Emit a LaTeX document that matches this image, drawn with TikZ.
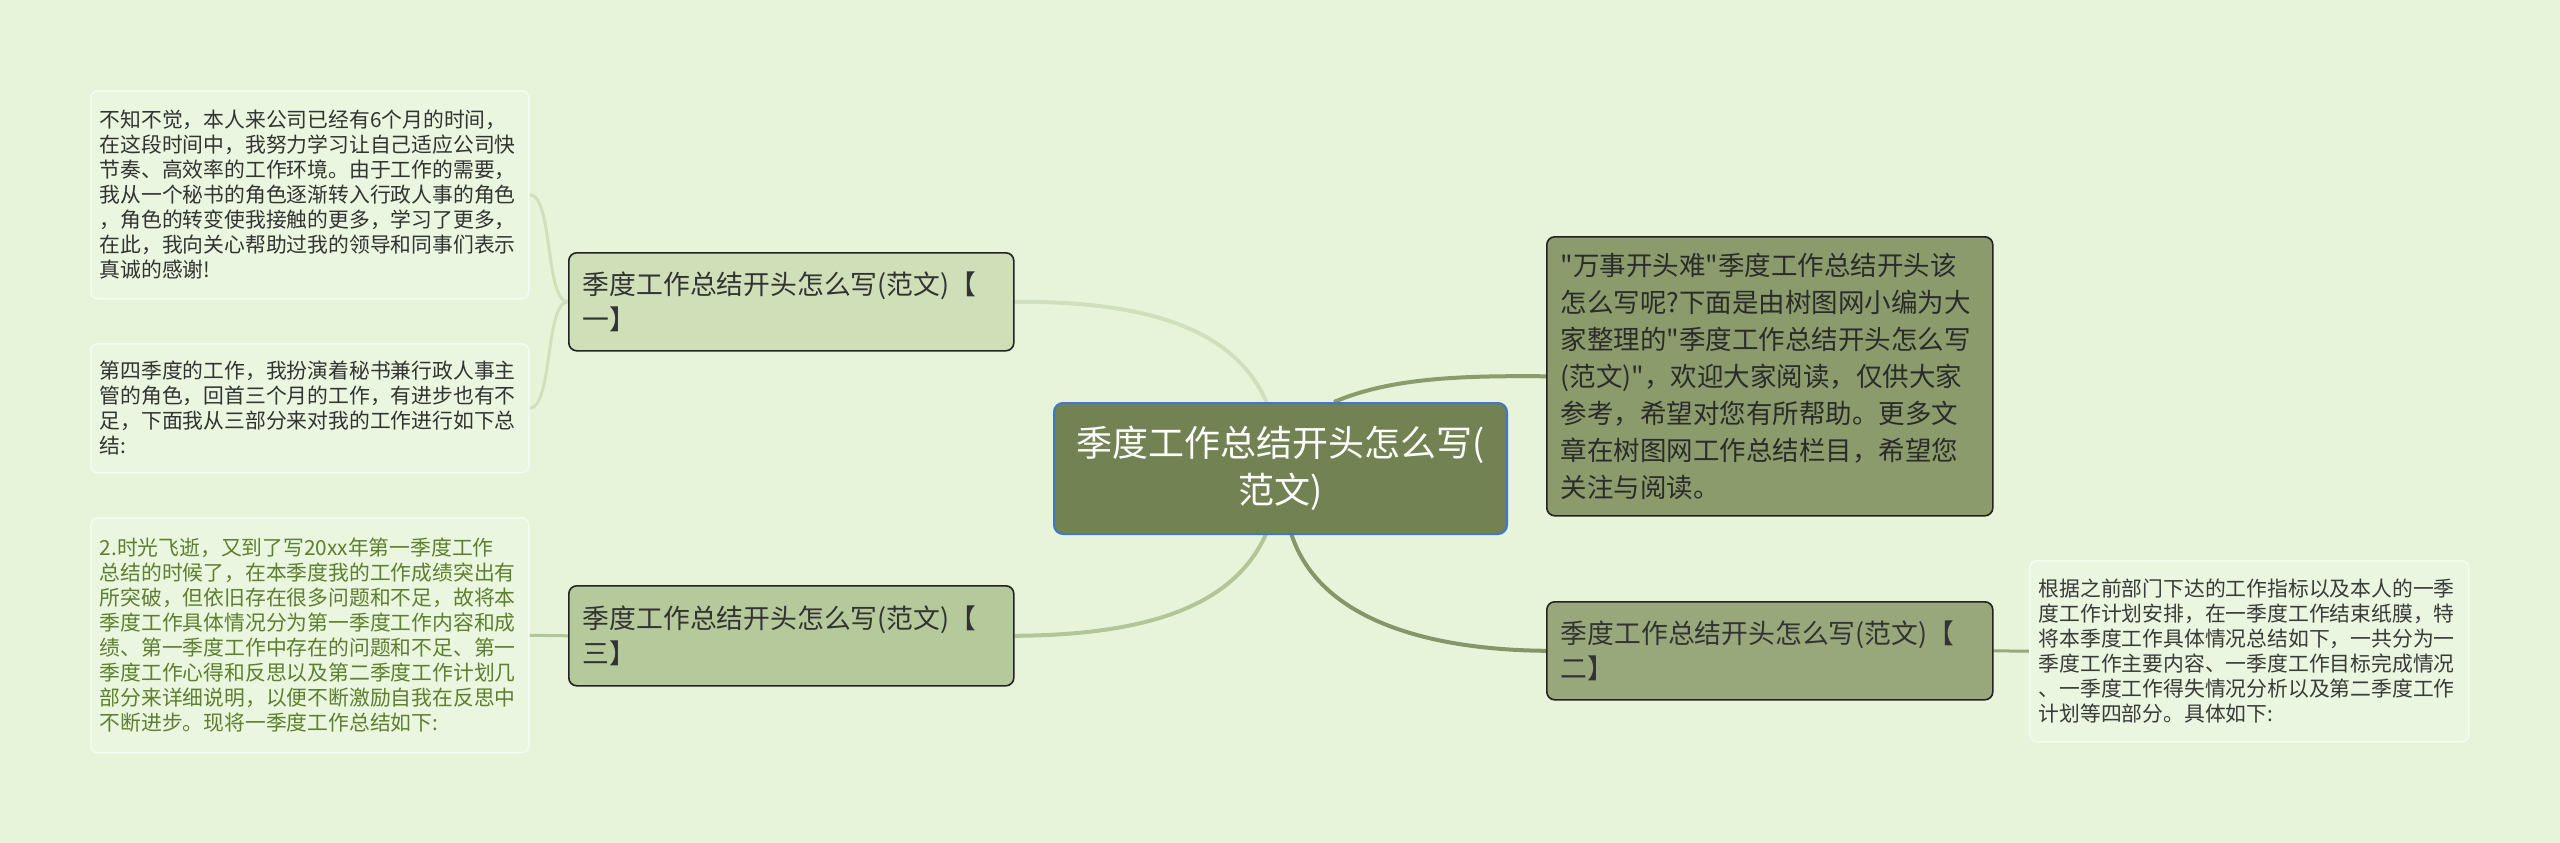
\documentclass[tikz,border=0pt]{standalone}
\usepackage{fontspec}
\usetikzlibrary{backgrounds}
\newfontfamily\cjkfont{Noto Sans CJK SC}
\definecolor{bgc}{HTML}{E7F4DA}
\definecolor{leaffill}{HTML}{EAF6DF}
\definecolor{leafdraw}{HTML}{F6FBF1}
\definecolor{cenfill}{HTML}{738253}
\definecolor{cendraw}{HTML}{3F78C8}
\definecolor{bonefill}{HTML}{CFE0B8}
\definecolor{bthreefill}{HTML}{B5C99B}
\definecolor{btwofill}{HTML}{98A87B}
\definecolor{descfill}{HTML}{8B9B6B}
\definecolor{bdraw}{HTML}{222222}
\definecolor{lone}{HTML}{D0E0BC}
\definecolor{lthree}{HTML}{B3C699}
\definecolor{ltwo}{HTML}{85966A}
\definecolor{ldesc}{HTML}{8A9B6C}
\definecolor{txtdark}{HTML}{333333}
\definecolor{txtdesc}{HTML}{2B2B2B}
\definecolor{txtleaf}{HTML}{3A3A3A}
\definecolor{txtgreen}{HTML}{5E7F2E}
\begin{document}
\begin{tikzpicture}[x=1pt,y=1pt,
  centerbox/.style={draw=cendraw,line width=2pt,fill=cenfill,rounded corners=9pt,
    text=white,align=center,text width=433pt,inner xsep=10pt,inner ysep=0pt,
    minimum height=131pt,font=\cjkfont\fontsize{36}{47}\selectfont,anchor=north west},
  branchbox/.style={draw=bdraw,line width=1.6pt,rounded corners=8pt,text=txtdark,
    align=left,text width=417pt,inner xsep=14pt,inner ysep=0pt,
    font=\cjkfont\fontsize{26.8}{35}\selectfont,anchor=north west},
  leafbox/.style={draw=leafdraw,line width=1.5pt,fill=leaffill,rounded corners=7pt,
    text=txtdark,align=left,text width=420pt,inner xsep=9pt,inner ysep=0pt,
    font=\cjkfont\fontsize{20.8}{25}\selectfont,anchor=north west},
  link/.style={line width=4pt},
  sublink/.style={line width=3pt}]
\useasboundingbox (0,0) rectangle (2560,-843);

\coordinate (c1) at (1266.5,-402);
\coordinate (c2) at (1334,-402);
\coordinate (c3) at (1266.5,-533);
\coordinate (c4) at (1291,-533);

\node[centerbox] (cen) at (1053,-402) {季度工作总结开头怎么写(\\范文)};
\node[branchbox,fill=bonefill,minimum height=98pt] (b1) at (568,-252) {季度工作总结开头怎么写(范文)【\\一】};
\node[branchbox,fill=bthreefill,minimum height=100pt] (b3) at (568,-585) {季度工作总结开头怎么写(范文)【\\三】};
\node[branchbox,fill=btwofill,minimum height=98pt,text width=418pt] (b2) at (1546,-601) {季度工作总结开头怎么写(范文)【\\二】};
\node[branchbox,fill=descfill,minimum height=279pt,text width=418pt,font=\cjkfont\fontsize{26.5}{37}\selectfont,text=txtdesc] (desc) at (1546,-236) {"万事开头难"季度工作总结开头该\\怎么写呢?下面是由树图网小编为大\\家整理的"季度工作总结开头怎么写\\(范文)"，欢迎大家阅读，仅供大家\\参考，希望对您有所帮助。更多文\\章在树图网工作总结栏目，希望您\\关注与阅读。};

\node[leafbox,minimum height=208pt] (l1a) at (90,-90) {不知不觉，本人来公司已经有6个月的时间，\\在这段时间中，我努力学习让自己适应公司快\\节奏、高效率的工作环境。由于工作的需要，\\我从一个秘书的角色逐渐转入行政人事的角色\\，角色的转变使我接触的更多，学习了更多，\\在此，我向关心帮助过我的领导和同事们表示\\真诚的感谢!};
\node[leafbox,minimum height=129pt] (l1b) at (90,-343) {第四季度的工作，我扮演着秘书兼行政人事主\\管的角色，回首三个月的工作，有进步也有不\\足，下面我从三部分来对我的工作进行如下总\\结:};
\node[leafbox,minimum height=235pt,text=txtgreen] (l3) at (90,-517) {2.时光飞逝，又到了写20xx年第一季度工作\\总结的时候了，在本季度我的工作成绩突出有\\所突破，但依旧存在很多问题和不足，故将本\\季度工作具体情况分为第一季度工作内容和成\\绩、第一季度工作中存在的问题和不足、第一\\季度工作心得和反思以及第二季度工作计划几\\部分来详细说明，以便不断激励自我在反思中\\不断进步。现将一季度工作总结如下:};
\node[leafbox,minimum height=181pt,text width=421pt,text=txtleaf] (l2) at (2029,-560) {根据之前部门下达的工作指标以及本人的一季\\度工作计划安排，在一季度工作结束纸膜，特\\将本季度工作具体情况总结如下，一共分为一\\季度工作主要内容、一季度工作目标完成情况\\、一季度工作得失情况分析以及第二季度工作\\计划等四部分。具体如下:};

\begin{pgfonlayer}{background}
\fill[bgc] (0,0) rectangle (2560,-843);
\draw[link,lone] (c1) .. controls (1235,-330) and (1150,-301) .. (b1.east);
\draw[link,lthree] (c3) .. controls (1235,-605) and (1150,-635) .. (b3.east);
\draw[link,ldesc] (c2) .. controls (1390,-378) and (1460,-375.5) .. (desc.west);
\draw[link,ltwo] (c4) .. controls (1320,-625) and (1440,-650) .. (b2.west);
\draw[sublink,lone] (b1.west) .. controls (545,-302) and (553,-194) .. (l1a.east);
\draw[sublink,lone] (b1.west) .. controls (545,-302) and (553,-407.5) .. (l1b.east);
\draw[sublink,lthree] (b3.west) -- (l3.east);
\draw[sublink,btwofill] (b2.east) -- (l2.west);
\end{pgfonlayer}
\end{tikzpicture}
\end{document}
